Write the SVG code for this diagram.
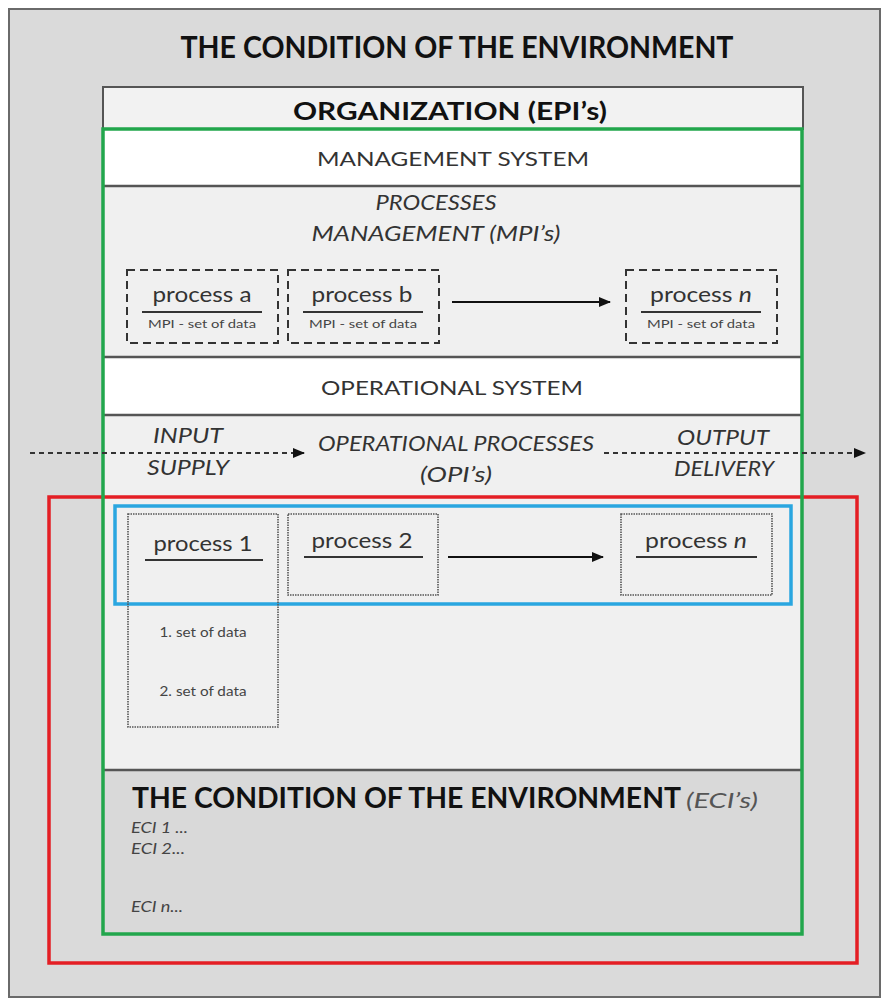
<svg xmlns="http://www.w3.org/2000/svg" width="883" height="999" viewBox="0 0 883 999">
  <style>
    text { font-family: Lato, "Open Sans", "Liberation Sans", sans-serif; }
    .h1 { font-size: 31px; font-weight: bold; fill: #111; }
    .h2 { font-size: 25px; font-weight: bold; fill: #111; }
    .band { font-size: 20px; fill: #333; }
    .it { font-size: 21px; font-style: italic; fill: #333; }
    .proc { font-size: 22px; fill: #333; }
    .small { font-size: 12px; fill: #444; }
    .data { font-size: 13px; fill: #444; }
    .eci { font-size: 15px; font-style: italic; fill: #444; }
    .sep { stroke: #555; stroke-width: 2.5; }
    .uline { stroke: #333; stroke-width: 2; }
    .dashbox { fill: none; stroke: #333; stroke-width: 2; stroke-dasharray: 8 5; }
    .dotbox { fill: none; stroke: #555; stroke-width: 1.6; stroke-dasharray: 1.5 1; }
    .flow { stroke: #111; stroke-width: 2; fill: none; }
    .dflow { stroke: #333; stroke-width: 2; fill: none; stroke-dasharray: 5 4; }
  </style>
  <defs>
    <marker id="head" markerUnits="userSpaceOnUse" markerWidth="12" markerHeight="10" refX="11" refY="5" orient="auto">
      <path d="M0,0 L12,5 L0,10 z" fill="#111"/>
    </marker>
  </defs>

  <!-- environment frame -->
  <g id="environment">
    <rect x="9" y="9" width="871" height="988" fill="#dadada" stroke="#6a6a6a" stroke-width="2"/>
    <text class="h1" x="457" y="58" text-anchor="middle" textLength="553" lengthAdjust="spacingAndGlyphs">THE CONDITION OF THE ENVIRONMENT</text>
  </g>

  <!-- organization header -->
  <g id="organization">
    <rect x="103" y="87" width="700" height="42" fill="#f2f2f2" stroke="#555" stroke-width="2"/>
    <text class="h2" x="450" y="120" text-anchor="middle" textLength="314" lengthAdjust="spacingAndGlyphs">ORGANIZATION (EPI’s)</text>
  </g>

  <!-- management system -->
  <g id="management-system">
    <rect x="103" y="129" width="700" height="57" fill="#ffffff"/>
    <text class="band" x="453" y="166" text-anchor="middle" textLength="272" lengthAdjust="spacingAndGlyphs">MANAGEMENT SYSTEM</text>
  </g>

  <!-- processes management -->
  <g id="processes-management">
    <rect x="103" y="186" width="700" height="171" fill="#f0f0f0"/>
    <text class="it" x="436" y="210" text-anchor="middle" textLength="121" lengthAdjust="spacingAndGlyphs">PROCESSES</text>
    <text class="it" x="436" y="241" text-anchor="middle" textLength="249" lengthAdjust="spacingAndGlyphs">MANAGEMENT (MPI’s)</text>
  </g>

  <!-- operational system -->
  <g id="operational-system">
    <rect x="103" y="357" width="700" height="58" fill="#ffffff"/>
    <text class="band" x="452" y="395" text-anchor="middle" textLength="262" lengthAdjust="spacingAndGlyphs">OPERATIONAL SYSTEM</text>
  </g>

  <!-- operational processes -->
  <g id="operational-processes">
    <rect x="103" y="415" width="700" height="355" fill="#f0f0f0"/>
    <text class="it" x="188" y="443" text-anchor="middle" textLength="70" lengthAdjust="spacingAndGlyphs">INPUT</text>
    <text class="it" x="188" y="475" text-anchor="middle" textLength="82" lengthAdjust="spacingAndGlyphs">SUPPLY</text>
    <text class="it" x="456" y="451" text-anchor="middle" textLength="276" lengthAdjust="spacingAndGlyphs">OPERATIONAL PROCESSES</text>
    <text class="it" x="456" y="482" text-anchor="middle" textLength="72" lengthAdjust="spacingAndGlyphs">(OPI’s)</text>
    <text class="it" x="723" y="445" text-anchor="middle" textLength="92" lengthAdjust="spacingAndGlyphs">OUTPUT</text>
    <text class="it" x="724" y="476" text-anchor="middle" textLength="100" lengthAdjust="spacingAndGlyphs">DELIVERY</text>
  </g>

  <!-- environment condition indicators -->
  <g id="environment-condition">
    <rect x="103" y="770" width="700" height="164" fill="#d9d9d9"/>
    <text x="132" y="808" style="font-size:28px;font-weight:bold;fill:#111" textLength="549" lengthAdjust="spacingAndGlyphs">THE CONDITION OF THE ENVIRONMENT</text>
    <text x="686" y="808" style="font-size:21px;font-style:italic;fill:#555" textLength="72" lengthAdjust="spacingAndGlyphs">(ECI’s)</text>
    <text class="eci" x="131" y="833" textLength="57" lengthAdjust="spacingAndGlyphs">ECI 1 ...</text>
    <text class="eci" x="131" y="854" textLength="54" lengthAdjust="spacingAndGlyphs">ECI 2...</text>
    <text class="eci" x="131" y="912" textLength="52" lengthAdjust="spacingAndGlyphs">ECI n...</text>
  </g>

  <!-- band separators -->
  <g id="separators">
    <line class="sep" x1="103" y1="186" x2="803" y2="186"/>
    <line class="sep" x1="103" y1="357" x2="803" y2="357"/>
    <line class="sep" x1="103" y1="415" x2="803" y2="415"/>
    <line class="sep" x1="103" y1="770" x2="803" y2="770"/>
  </g>

  <!-- scope outlines -->
  <g id="scope-red">
    <rect x="49" y="497" width="808" height="466" fill="none" stroke="#e41e24" stroke-width="3.5"/>
  </g>
  <g id="scope-green">
    <rect x="103" y="129" width="699" height="805" fill="none" stroke="#22a64c" stroke-width="3.5"/>
  </g>
  <g id="scope-blue">
    <rect x="115" y="506" width="676" height="98" fill="none" stroke="#2aa6e0" stroke-width="3.5"/>
  </g>

  <!-- management processes -->
  <g id="process-a">
    <rect class="dashbox" x="127" y="270" width="151" height="73"/>
    <text class="proc" x="202" y="302" text-anchor="middle" textLength="99" lengthAdjust="spacingAndGlyphs">process a</text>
    <line class="uline" x1="142" y1="312" x2="262" y2="312"/>
    <text class="small" x="202" y="328" text-anchor="middle" textLength="108" lengthAdjust="spacingAndGlyphs">MPI - set of data</text>
  </g>
  <g id="process-b">
    <rect class="dashbox" x="288" y="270" width="151" height="73"/>
    <text class="proc" x="362" y="302" text-anchor="middle" textLength="101" lengthAdjust="spacingAndGlyphs">process b</text>
    <line class="uline" x1="303" y1="312" x2="423" y2="312"/>
    <text class="small" x="363" y="328" text-anchor="middle" textLength="108" lengthAdjust="spacingAndGlyphs">MPI - set of data</text>
  </g>
  <g id="process-n-mgmt">
    <rect class="dashbox" x="626" y="270" width="151" height="73"/>
    <text class="proc" x="701" y="302" text-anchor="middle" textLength="102" lengthAdjust="spacingAndGlyphs">process <tspan font-style="italic">n</tspan></text>
    <line class="uline" x1="641" y1="312" x2="761" y2="312"/>
    <text class="small" x="701" y="328" text-anchor="middle" textLength="108" lengthAdjust="spacingAndGlyphs">MPI - set of data</text>
  </g>

  <!-- operational processes -->
  <g id="process-1">
    <rect class="dotbox" x="128" y="514" width="150" height="213"/>
    <text class="proc" x="203" y="551" text-anchor="middle" textLength="99" lengthAdjust="spacingAndGlyphs">process 1</text>
    <line class="uline" x1="145" y1="560" x2="263" y2="560"/>
    <text class="data" x="203" y="637" text-anchor="middle" textLength="87" lengthAdjust="spacingAndGlyphs">1. set of data</text>
    <text class="data" x="203" y="696" text-anchor="middle" textLength="87" lengthAdjust="spacingAndGlyphs">2. set of data</text>
  </g>
  <g id="process-2">
    <rect class="dotbox" x="288" y="514" width="150" height="81"/>
    <text class="proc" x="362" y="548" text-anchor="middle" textLength="101" lengthAdjust="spacingAndGlyphs">process 2</text>
    <line class="uline" x1="304" y1="557" x2="423" y2="557"/>
  </g>
  <g id="process-n-op">
    <rect class="dotbox" x="621" y="514" width="151" height="81"/>
    <text class="proc" x="696" y="548" text-anchor="middle" textLength="102" lengthAdjust="spacingAndGlyphs">process <tspan font-style="italic">n</tspan></text>
    <line class="uline" x1="636" y1="557" x2="757" y2="557"/>
  </g>

  <!-- connectors -->
  <g id="connectors">
    <line class="flow" x1="452" y1="302" x2="610" y2="302" marker-end="url(#head)"/>
    <line class="flow" x1="448" y1="557" x2="603" y2="557" marker-end="url(#head)"/>
    <line class="dflow" x1="30" y1="453" x2="304" y2="453" marker-end="url(#head)"/>
    <line class="dflow" x1="604" y1="453" x2="865" y2="453" marker-end="url(#head)"/>
  </g>
</svg>
